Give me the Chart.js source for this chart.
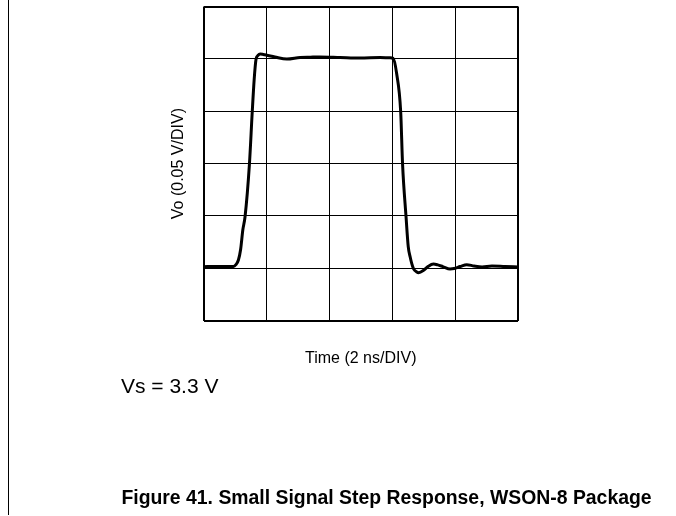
<!DOCTYPE html>
<html>
<head>
<meta charset="utf-8">
<script src="https://cdn.jsdelivr.net/npm/chart.js@4/dist/chart.umd.min.js"></script>
<style>
  html, body { margin: 0; padding: 0; background: #fff; }
  #wrap { position: relative; width: 676px; height: 516px; overflow: hidden; }
  #c { position: absolute; left: 0; top: 0; }
  .edge { position: absolute; left: 8px; top: 0; width: 1px; height: 515px; background: #000; }
  .note { position: absolute; left: 121px; top: 374px; font: 21px "Liberation Sans", Arial, sans-serif; color: #000; white-space: nowrap; }
  .caption { position: absolute; left: 0; width: 676px; top: 486px; text-align: center; padding-left: 97px; box-sizing: border-box; font: bold 19.4px "Liberation Sans", Arial, sans-serif; color: #000; white-space: nowrap; }
</style>
</head>
<body>
<div id="wrap">
  <canvas id="c" width="676" height="516"></canvas>
  <div class="edge"></div>
  <div class="note">Vs = 3.3 V</div>
  <div class="caption">Figure 41. Small Signal Step Response, WSON-8 Package</div>
</div>
<script>
// Time in ns (2 ns per division), output in mV (50 mV per division)
const timeNs = [0, 0.37, 0.68, 0.95, 1.03, 1.11, 1.18, 1.25, 1.32, 1.46, 1.55, 1.61, 1.67, 1.73, 1.80, 1.90, 1.99, 2.27, 2.65, 3.07, 3.40, 3.70, 4.34, 4.98, 5.61, 5.93, 6.03, 6.14, 6.27, 6.33, 6.44, 6.51, 6.57, 6.62, 6.68, 6.78, 6.84, 7.01, 7.15, 7.31, 7.45, 7.61, 7.84, 7.97, 8.16, 8.37, 8.60, 8.86, 9.17, 9.59, 10.0];
const voutMv = [51.6, 51.7, 51.7, 51.8, 53.5, 58.0, 68.0, 86.6, 99.0, 149.3, 199.5, 229.8, 249.6, 253.2, 254.6, 254.2, 253.7, 251.8, 249.8, 251.3, 251.6, 251.8, 251.3, 250.8, 251.3, 251.0, 250.5, 236.2, 199.5, 149.3, 99.3, 70.7, 61.0, 54.8, 49.5, 46.6, 45.9, 48.4, 52.0, 54.1, 53.3, 51.7, 49.4, 49.8, 51.7, 53.5, 52.2, 51.3, 52.2, 51.7, 51.3];
const xGridNs = [0, 2, 4, 6, 8, 10];
const yGridMv = [0, 50, 100, 150, 200, 250, 300];
const xTitle = 'Time (2 ns/DIV)';
const yTitle = 'Vo (0.05 V/DIV)';

const FONT = '"Liberation Sans", Arial, sans-serif';
const edgeWidth = (n) => (ctx) => (ctx.index === 0 || ctx.index === n - 1) ? 2 : 1;

new Chart(document.getElementById('c'), {
  type: 'line',
  data: {
    labels: timeNs,
    datasets: [{
      data: timeNs.map((t, i) => ({ x: t, y: voutMv[i] })),
      borderColor: '#000',
      borderWidth: 3,
      pointRadius: 0,
      fill: false,
      cubicInterpolationMode: 'monotone'
    }]
  },
  options: {
    responsive: false,
    animation: false,
    layout: { padding: { left: 169.4, right: 158, top: 6.5, bottom: 147.4 } },
    plugins: { legend: { display: false }, tooltip: { enabled: false } },
    scales: {
      x: {
        type: 'linear',
        min: xGridNs[0],
        max: xGridNs[xGridNs.length - 1],
        afterBuildTicks: (s) => { s.ticks = xGridNs.map(v => ({ value: v })); },
        ticks: { display: false },
        grid: { color: '#000', lineWidth: edgeWidth(xGridNs.length), drawTicks: false },
        border: { display: false },
        title: {
          display: true, text: xTitle, color: '#000',
          font: { family: FONT, size: 16, lineHeight: 1.2 },
          padding: { top: 28.7, bottom: 0 }
        }
      },
      y: {
        type: 'linear',
        min: yGridMv[0],
        max: yGridMv[yGridMv.length - 1],
        afterBuildTicks: (s) => { s.ticks = yGridMv.map(v => ({ value: v })); },
        ticks: { display: false },
        grid: { color: '#000', lineWidth: edgeWidth(yGridMv.length), drawTicks: false },
        border: { display: false },
        title: {
          display: true, text: yTitle, color: '#000',
          font: { family: FONT, size: 16, lineHeight: 1.2 },
          padding: { top: 0, bottom: 14.9 }
        }
      }
    }
  }
});
</script>
</body>
</html>
